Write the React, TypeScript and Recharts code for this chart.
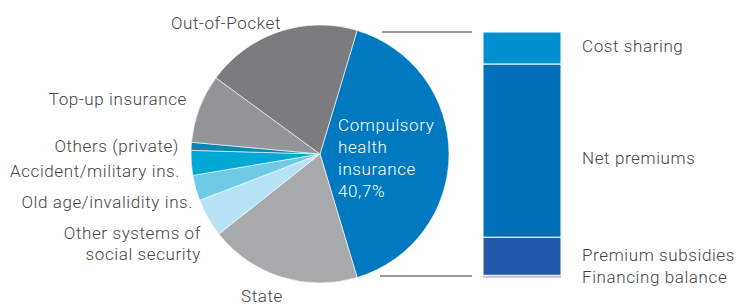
import React from 'react';
import { PieChart, Pie, Cell, BarChart, Bar, XAxis, YAxis } from 'recharts';

// financing sources of health care (share of total, %), clockwise from CHI
const sourceNames = [
  'Compulsory health insurance',
  'State',
  'Other systems of social security',
  'Old age/invalidity ins.',
  'Accident/military ins.',
  'Others (private)',
  'Top-up insurance',
  'Out-of-Pocket',
];
const sourceShares = [40.7, 19.0, 4.8, 3.2, 3.1, 1.0, 8.6, 19.6];
const sourceColors = ['#0079c1', '#a7a9ac', '#b7e3f6', '#6fcae6', '#00a8d6', '#0a86b0', '#939598', '#7b7c7f'];

// breakdown of compulsory health insurance (%), top to bottom
const chiParts = ['Cost sharing', 'Net premiums', 'Premium subsidies', 'Financing balance'];
const chiShares = [13.0, 70.4, 15.5, 1.1];
const chiColors = ['#0090d2', '#0071b9', '#2458a8', '#c9c4e4'];

const pieData = sourceNames.map((name, i) => ({ name, value: sourceShares[i] }));
const barRow: any = { name: 'chi' };
chiParts.forEach((p, i) => { barRow[p] = chiShares[i]; });

const font = 'Roboto, "Open Sans", sans-serif';
const txt = '#454545';

// half-angle of the CHI slice so it sits centred on the right
const chiHalf = (sourceShares[0] / 100) * 180;

export default function App() {
  return (
    <div style={{ position: 'absolute', left: 0, top: 0, width: 741, height: 305, background: '#fff', fontFamily: font }}>
      <div style={{ position: 'absolute', left: 0, top: 0 }}>
        <PieChart width={741} height={305} margin={{ top: 0, right: 0, bottom: 0, left: 0 }}>
          <Pie
            data={pieData}
            dataKey="value"
            cx={320}
            cy={154}
            outerRadius={129}
            startAngle={chiHalf}
            endAngle={chiHalf - 360}
            stroke="#ffffff"
            strokeWidth={0.6}
            isAnimationActive={false}
          >
            {pieData.map((d, i) => (
              <Cell key={d.name} fill={sourceColors[i]} />
            ))}
          </Pie>
        </PieChart>
      </div>

      <div style={{ position: 'absolute', left: 483, top: 32 }}>
        <BarChart width={78} height={246} data={[barRow]} margin={{ top: 0, right: 0, bottom: 0, left: 0 }} barCategoryGap={0}>
          <XAxis dataKey="name" hide />
          <YAxis hide domain={[0, 100]} />
          {[...chiParts].reverse().map((p) => (
            <Bar
              key={p}
              dataKey={p}
              stackId="chi"
              fill={chiColors[chiParts.indexOf(p)]}
              stroke="#ffffff"
              strokeWidth={p === 'Financing balance' ? 0 : 1}
              isAnimationActive={false}
            />
          ))}
        </BarChart>
      </div>

      <svg width={741} height={305} style={{ position: 'absolute', left: 0, top: 0, pointerEvents: 'none' }}>
        <line x1={382} y1={32} x2={472} y2={32} stroke="#333" strokeWidth={1} />
        <line x1={380} y1={276} x2={472} y2={276} stroke="#333" strokeWidth={1} />
        <g fontFamily={font} fontSize={17} fill={txt} fontWeight={300} letterSpacing={0.6}>
          <text x={281} y={29} textAnchor="end">{sourceNames[7]}</text>
          <text x={187} y={105} textAnchor="end">{sourceNames[6]}</text>
          <text x={179} y={152} textAnchor="end">{sourceNames[5]}</text>
          <text x={180} y={177} textAnchor="end">{sourceNames[4]}</text>
          <text x={193} y={208} textAnchor="end">{sourceNames[3]}</text>
          <text x={201} y={239} textAnchor="end">Other systems of</text>
          <text x={201} y={260} textAnchor="end">social security</text>
          <text x={262} y={302} textAnchor="middle">{sourceNames[1]}</text>
          <g fill="#ffffff">
            <text x={338} y={131}>Compulsory</text>
            <text x={338} y={153}>health</text>
            <text x={338} y={175}>insurance</text>
            <text x={338} y={197}>{String(sourceShares[0]).replace('.', ',')}%</text>
          </g>
          <text x={582} y={52}>{chiParts[0]}</text>
          <text x={582} y={164}>{chiParts[1]}</text>
          <text x={582} y={261}>{chiParts[2]}</text>
          <text x={582} y={283}>{chiParts[3]}</text>
        </g>
      </svg>
    </div>
  );
}
